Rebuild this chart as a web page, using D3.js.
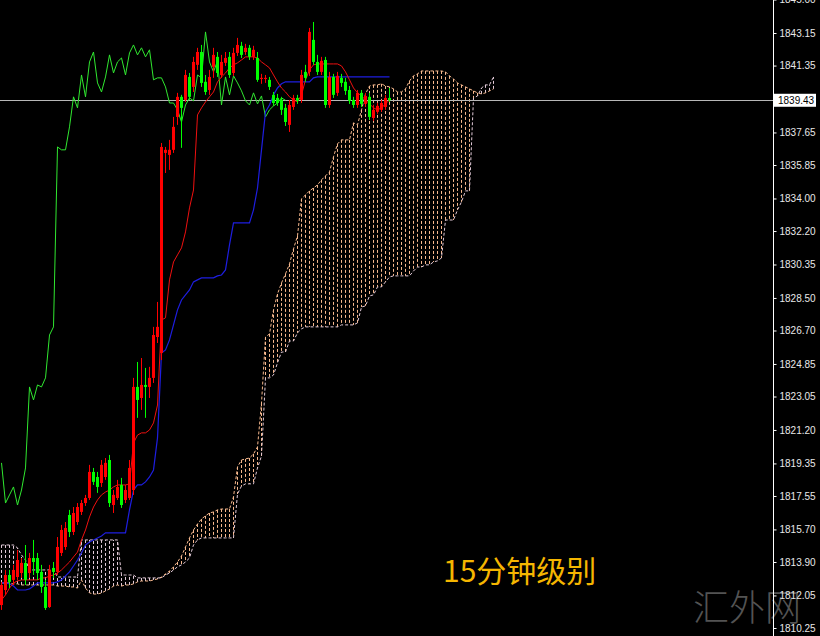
<!DOCTYPE html>
<html>
<head>
<meta charset="utf-8">
<script src="https://cdn.jsdelivr.net/npm/d3@7"></script>
<style>
  body { margin: 0; background: #000; }
</style>
</head>
<body>
<div id="chart"></div>
<script>
// 15-minute gold bars, Ichimoku view
const opens = [
  1811.52, 1812.35, 1813.18, 1812.91, 1813.07, 1813.29, 1813.85, 1813.29, 1814.12, 1814.12,
  1813.35, 1812.52, 1811.41, 1813.57, 1813.35, 1814.40, 1814.73, 1816.50, 1815.56, 1816.11,
  1816.67, 1817.16, 1817.44, 1818.88, 1818.60, 1818.27, 1818.60, 1819.54, 1817.05, 1817.44,
  1818.16, 1817.33, 1817.44, 1817.88, 1823.58, 1822.97, 1823.69, 1823.58, 1824.08, 1826.34,
  1825.46, 1836.52, 1836.41, 1836.69, 1838.51, 1839.62, 1839.45, 1840.72, 1840.17, 1841.39,
  1842.10, 1840.45, 1840.00, 1841.28, 1841.83, 1840.83, 1841.50, 1841.83, 1840.94, 1842.05,
  1842.44, 1842.10, 1842.33, 1841.83, 1841.77, 1840.61, 1840.61, 1840.56, 1839.73, 1839.56,
  1839.45, 1839.01, 1838.07, 1839.06, 1839.56, 1839.45, 1841.00, 1841.00, 1842.77, 1841.55,
  1841.00, 1841.66, 1839.17, 1840.72, 1839.84, 1840.67, 1840.45, 1840.00, 1839.45, 1839.17,
  1839.84, 1839.23, 1839.62, 1838.45, 1838.79, 1838.90, 1839.06, 1839.56
];
const highs = [
  1812.80, 1813.46, 1813.46, 1813.74, 1814.57, 1814.12, 1814.84, 1814.40, 1815.12, 1814.40,
  1813.74, 1812.91, 1813.74, 1813.90, 1815.28, 1815.95, 1816.11, 1816.78, 1816.94, 1817.16,
  1817.33, 1817.61, 1819.27, 1819.10, 1818.88, 1819.54, 1819.65, 1819.82, 1817.88, 1818.44,
  1818.55, 1818.16, 1819.54, 1824.08, 1824.96, 1825.18, 1824.63, 1824.69, 1826.90, 1828.28,
  1837.07, 1836.85, 1837.24, 1838.51, 1839.84, 1839.73, 1841.11, 1840.94, 1841.83, 1842.33,
  1842.49, 1840.83, 1841.11, 1842.33, 1842.10, 1841.94, 1842.10, 1842.10, 1842.33, 1842.88,
  1842.66, 1842.55, 1842.49, 1842.44, 1842.10, 1840.89, 1840.83, 1840.72, 1839.89, 1839.78,
  1839.62, 1839.23, 1839.45, 1839.73, 1839.73, 1841.11, 1841.39, 1843.43, 1843.76, 1841.94,
  1841.83, 1841.83, 1841.00, 1840.89, 1841.00, 1840.89, 1840.67, 1840.22, 1839.62, 1840.00,
  1840.00, 1839.84, 1839.84, 1839.17, 1839.28, 1839.45, 1839.73, 1840.11
];
const lows = [
  1811.25, 1812.08, 1812.46, 1812.63, 1812.91, 1813.02, 1812.63, 1813.02, 1813.18, 1812.91,
  1812.19, 1811.25, 1811.36, 1813.02, 1813.18, 1814.23, 1814.57, 1815.28, 1815.39, 1815.95,
  1816.50, 1817.00, 1817.33, 1818.16, 1817.72, 1818.05, 1818.44, 1816.94, 1816.61, 1817.33,
  1816.89, 1817.16, 1817.33, 1817.61, 1821.87, 1822.31, 1821.87, 1822.97, 1823.80, 1826.01,
  1825.07, 1835.41, 1835.58, 1836.52, 1838.07, 1836.80, 1839.34, 1839.45, 1839.89, 1841.11,
  1840.17, 1839.73, 1839.73, 1840.67, 1840.72, 1840.67, 1841.33, 1840.67, 1840.78, 1841.88,
  1841.77, 1841.94, 1841.66, 1841.66, 1840.45, 1840.34, 1840.39, 1840.00, 1839.12, 1839.12,
  1838.62, 1838.01, 1837.68, 1838.90, 1839.23, 1839.28, 1840.45, 1840.78, 1841.39, 1840.83,
  1840.83, 1839.01, 1839.01, 1839.56, 1839.67, 1840.17, 1839.73, 1839.23, 1839.01, 1839.01,
  1839.06, 1839.06, 1838.34, 1838.29, 1838.68, 1838.79, 1838.90, 1839.34
];
const closes = [
  1812.63, 1813.18, 1812.80, 1813.46, 1814.01, 1813.85, 1812.91, 1814.12, 1813.90, 1813.29,
  1812.52, 1811.36, 1813.46, 1813.35, 1814.73, 1815.67, 1815.78, 1815.56, 1816.61, 1816.94,
  1817.16, 1817.44, 1818.88, 1818.33, 1818.05, 1819.27, 1819.38, 1817.16, 1817.61, 1818.05,
  1817.05, 1817.88, 1819.10, 1823.58, 1822.86, 1823.69, 1823.58, 1824.08, 1826.45, 1826.90,
  1836.85, 1836.69, 1836.69, 1837.96, 1839.62, 1839.01, 1840.83, 1839.62, 1841.55, 1842.10,
  1840.39, 1839.89, 1840.72, 1841.94, 1840.94, 1841.55, 1841.77, 1840.83, 1842.05, 1842.49,
  1841.94, 1842.33, 1841.83, 1842.22, 1840.56, 1840.67, 1840.67, 1840.17, 1839.28, 1839.28,
  1838.90, 1838.23, 1839.17, 1839.56, 1839.40, 1840.83, 1840.67, 1843.21, 1841.55, 1841.00,
  1841.61, 1839.17, 1840.72, 1839.73, 1840.78, 1840.39, 1839.95, 1839.40, 1839.17, 1839.84,
  1839.23, 1839.67, 1838.51, 1838.90, 1839.12, 1839.28, 1839.56, 1839.43
];

// Tenkan-sen (red) and Kijun-sen (blue), one value per bar
const tenkan = [
  1811.80, 1812.08, 1812.46, 1812.74, 1812.85, 1812.91, 1812.91, 1812.91, 1812.91, 1812.91,
  1813.02, 1813.02, 1813.13, 1813.18, 1813.29, 1813.46, 1813.68, 1813.90, 1814.18, 1814.45,
  1815.12, 1815.67, 1816.39, 1816.94, 1817.33, 1817.61, 1817.77, 1817.88, 1818.05, 1818.16,
  1818.16, 1818.16, 1818.22, 1820.48, 1820.92, 1821.04, 1821.04, 1821.20, 1821.59, 1822.58,
  1827.28, 1827.40, 1829.50, 1830.49, 1830.88, 1831.27, 1832.15, 1833.48, 1834.47, 1838.62,
  1839.01, 1839.34, 1839.62, 1839.89, 1840.45, 1840.72, 1840.94, 1841.22, 1841.39, 1841.50,
  1841.66, 1841.83, 1841.83, 1841.83, 1841.77, 1841.55, 1841.39, 1841.22, 1840.83, 1840.45,
  1840.11, 1839.89, 1839.62, 1839.45, 1839.34, 1839.73, 1840.56, 1841.11, 1841.39, 1841.44,
  1841.44, 1841.44, 1841.44, 1841.44, 1841.44, 1841.33, 1841.00, 1840.56, 1840.11, 1839.84,
  1839.67, 1839.45, 1839.23, 1839.01, 1838.90, 1839.01, 1839.23, 1839.45
];
const kijun = [
  1812.74, 1812.74, 1812.69, 1812.57, 1812.35, 1812.35, 1812.35, 1812.41, 1812.57, 1812.74,
  1812.74, 1812.74, 1812.74, 1812.74, 1812.80, 1812.91, 1813.13, 1813.35, 1813.68, 1814.01,
  1814.40, 1814.84, 1815.01, 1815.12, 1815.23, 1815.34, 1815.51, 1815.51, 1815.51, 1815.51,
  1815.51, 1815.51, 1816.78, 1817.88, 1818.16, 1818.16, 1818.33, 1818.60, 1818.99, 1820.76,
  1825.46, 1825.63, 1826.18, 1827.01, 1827.84, 1828.39, 1828.67, 1828.94, 1829.39, 1829.50,
  1829.61, 1829.61, 1829.61, 1829.61, 1829.72, 1829.77, 1830.05, 1831.43, 1832.65, 1832.65,
  1832.65, 1832.65, 1832.65, 1833.37, 1834.58, 1836.69, 1838.79, 1839.17, 1839.73, 1840.11,
  1840.34, 1840.45, 1840.45, 1840.45, 1840.45, 1840.45, 1840.45, 1840.45, 1840.67, 1840.72,
  1840.72, 1840.72, 1840.72, 1840.72, 1840.72, 1840.72, 1840.72, 1840.72, 1840.72, 1840.72,
  1840.72, 1840.72, 1840.72, 1840.72, 1840.72, 1840.72, 1840.72, 1840.72
];

// Senkou span A / B, drawn 26 bars ahead (124 slots)
const spanA = [
  1812.74, 1812.74, 1812.74, 1812.69, 1812.69, 1812.63, 1812.63, 1812.63, 1812.63, 1812.63,
  1812.63, 1812.63, 1812.63, 1812.63, 1812.57, 1812.57, 1812.57, 1812.52, 1812.52, 1812.46,
  1812.91, 1812.46, 1812.19, 1812.13, 1812.13, 1812.19, 1812.30, 1812.41, 1812.57, 1812.63,
  1812.57, 1812.63, 1812.63, 1812.69, 1812.80, 1812.85, 1812.85, 1812.85, 1812.91, 1812.96,
  1813.07, 1813.24, 1813.40, 1813.63, 1813.90, 1814.23, 1814.73, 1815.23, 1815.67, 1816.00,
  1816.28, 1816.45, 1816.61, 1816.67, 1816.78, 1816.83, 1816.83, 1816.83, 1817.50, 1819.16,
  1819.54, 1819.60, 1819.65, 1819.87, 1820.26, 1822.69, 1826.34, 1826.51, 1827.84, 1828.72,
  1829.33, 1829.83, 1830.38, 1831.21, 1831.93, 1833.98, 1834.20, 1834.42, 1834.58, 1834.75,
  1835.03, 1835.25, 1835.47, 1836.30, 1837.02, 1837.24, 1837.24, 1837.24, 1838.18, 1838.07,
  1838.90, 1839.78, 1840.22, 1840.28, 1840.28, 1840.34, 1840.22, 1840.17, 1840.06, 1839.89,
  1839.89, 1840.06, 1840.50, 1840.78, 1840.89, 1841.05, 1841.05, 1841.05, 1841.05, 1841.05,
  1841.05, 1841.00, 1840.78, 1840.61, 1840.39, 1840.28, 1840.17, 1840.06, 1839.95, 1839.84,
  1839.78, 1839.84, 1839.95, 1840.06
];
const spanB = [
  1814.84, 1814.84, 1814.84, 1814.84, 1814.68, 1814.29, 1814.01, 1813.46, 1813.46, 1813.46,
  1813.46, 1813.46, 1813.46, 1813.46, 1813.07, 1813.07, 1813.07, 1813.07, 1813.07, 1813.07,
  1815.12, 1815.12, 1815.12, 1815.12, 1815.12, 1815.12, 1815.12, 1815.12, 1815.12, 1815.12,
  1813.18, 1813.18, 1813.18, 1813.18, 1813.02, 1813.02, 1813.02, 1813.02, 1813.02, 1813.02,
  1813.02, 1813.18, 1813.29, 1813.46, 1813.63, 1813.74, 1813.90, 1814.12, 1814.84, 1815.12,
  1815.23, 1815.23, 1815.23, 1815.23, 1815.23, 1815.23, 1815.23, 1815.23, 1815.23, 1817.66,
  1818.10, 1818.22, 1818.22, 1818.22, 1819.10, 1819.76, 1824.08, 1824.08, 1824.24, 1824.91,
  1825.51, 1825.51, 1826.12, 1826.12, 1826.57, 1826.79, 1826.90, 1826.90, 1826.90, 1826.90,
  1826.90, 1826.90, 1826.90, 1826.90, 1826.90, 1827.01, 1827.01, 1827.01, 1827.01, 1827.12,
  1828.00, 1828.06, 1828.61, 1828.67, 1829.11, 1829.11, 1829.39, 1829.66, 1829.72, 1829.72,
  1829.72, 1829.72, 1829.72, 1829.99, 1830.21, 1830.21, 1830.33, 1830.33, 1830.49, 1830.55,
  1830.71, 1832.81, 1832.81, 1832.81, 1833.37, 1833.81, 1834.42, 1834.42, 1839.56, 1839.67,
  1840.11, 1840.28, 1840.28, 1840.72
];

const chikouShift = 26;
const priceTicks = [1845.00, 1843.15, 1841.35, 1837.65, 1835.85, 1834.00, 1832.20, 1830.35,
  1828.50, 1826.70, 1824.85, 1823.05, 1821.20, 1819.35, 1817.55, 1815.70, 1813.90, 1812.05, 1810.25];
const lastPrice = 1839.43;
const caption = "15分钟级别";
const watermark = "汇外网";

const W = 820, H = 636;
const axisX = 773;

const svg = d3.select("#chart")
    .append("svg")
    .attr("width", W)
    .attr("height", H);

svg.append("rect")
    .attr("width", W)
    .attr("height", H)
    .attr("fill", "#000");

// Scales: 4px per bar, price axis as in the terminal
const x = d3.scaleLinear().domain([0, 123]).range([1.5, 493.5]);
const y = d3.scaleLinear().domain([1810.25, 1843.15]).range([628, 33]);

const plot = svg.append("g");

// Kumo: dotted vertical strokes between the spans
const bullCloud = "#f7b98e", bearCloud = "#e2cad8";
plot.append("g")
    .selectAll("line")
    .data(spanA.map((a, i) => ({ i, a, b: spanB[i] })))
    .join("line")
    .attr("x1", d => x(d.i))
    .attr("x2", d => x(d.i))
    .attr("y1", d => y(d.a))
    .attr("y2", d => y(d.b))
    .attr("stroke", d => d.a >= d.b ? bullCloud : bearCloud)
    .attr("stroke-width", 1)
    .attr("stroke-dasharray", "3,2");

const line = d3.line()
    .x((d, i) => x(i))
    .y(d => y(d));

plot.append("path").datum(spanA)
    .attr("d", line).attr("fill", "none")
    .attr("stroke", bullCloud).attr("stroke-dasharray", "3,2");
plot.append("path").datum(spanB)
    .attr("d", line).attr("fill", "none")
    .attr("stroke", bearCloud).attr("stroke-dasharray", "3,2");

// current price line
plot.append("line")
    .attr("x1", 0).attr("x2", axisX)
    .attr("y1", Math.round(y(lastPrice)) + 0.5).attr("y2", Math.round(y(lastPrice)) + 0.5)
    .attr("stroke", "#b8b8b8");

// Chikou, Tenkan, Kijun
plot.append("path").datum(closes.slice(chikouShift))
    .attr("d", line).attr("fill", "none")
    .attr("stroke", "#30e830").attr("stroke-width", 1);
plot.append("path").datum(kijun)
    .attr("d", line).attr("fill", "none")
    .attr("stroke", "#1e1ee0").attr("stroke-width", 1.2);
plot.append("path").datum(tenkan)
    .attr("d", line).attr("fill", "none")
    .attr("stroke", "#f01010").attr("stroke-width", 1);

// Candles (red = up, green = down)
const bars = opens.map((o, i) => ({ i, o, h: highs[i], l: lows[i], c: closes[i] }));
const candle = plot.append("g")
    .selectAll("g")
    .data(bars)
    .join("g")
    .attr("fill", d => d.c >= d.o ? "#ff0000" : "#00ff00")
    .attr("stroke", d => d.c >= d.o ? "#ff0000" : "#00ff00");

candle.append("line")
    .attr("x1", d => x(d.i)).attr("x2", d => x(d.i))
    .attr("y1", d => y(d.h)).attr("y2", d => y(d.l));

candle.append("rect")
    .attr("stroke", "none")
    .attr("x", d => x(d.i) - 1.5)
    .attr("width", 3)
    .attr("y", d => y(Math.max(d.o, d.c)))
    .attr("height", d => Math.max(1, y(Math.min(d.o, d.c)) - y(Math.max(d.o, d.c))));

// watermark (sits under the axis labels, as in the terminal shot)
svg.append("text")
    .attr("x", 693).attr("y", 621)
    .attr("fill", "#777")
    .attr("opacity", 0.7)
    .style("font-family", "'Noto Sans CJK SC', sans-serif")
    .style("font-weight", 300)
    .style("font-size", "36px")
    .text(watermark);

// Price axis on the right
svg.append("line")
    .attr("x1", axisX + 0.5).attr("x2", axisX + 0.5)
    .attr("y1", 0).attr("y2", H)
    .attr("stroke", "#fff");

const axis = svg.append("g")
    .attr("transform", `translate(${axisX + 0.5},0)`)
    .call(d3.axisRight(y).tickValues(priceTicks).tickFormat(d3.format(".2f")).tickSize(3).tickPadding(3));
axis.select(".domain").remove();
axis.selectAll("line").attr("stroke", "#fff");
axis.selectAll("text")
    .attr("fill", "#e8e8e8")
    .style("font-family", "'Liberation Sans', Arial, sans-serif")
    .style("font-size", "10px");

// last price tag
const py = y(lastPrice);
svg.append("rect")
    .attr("x", axisX + 1).attr("y", py - 6.5)
    .attr("width", 42).attr("height", 13)
    .attr("fill", "#fff");
svg.append("text")
    .attr("x", axisX + 5).attr("y", py + 3.5)
    .attr("fill", "#000")
    .style("font-family", "'Liberation Sans', Arial, sans-serif")
    .style("font-size", "10px")
    .text(d3.format(".2f")(lastPrice));

// caption
svg.append("text")
    .attr("x", 443).attr("y", 582)
    .attr("fill", "#f5b600")
    .style("font-family", "'Noto Sans CJK SC', sans-serif")
    .style("font-size", "30px")
    .text(caption);
</script>
</body>
</html>
